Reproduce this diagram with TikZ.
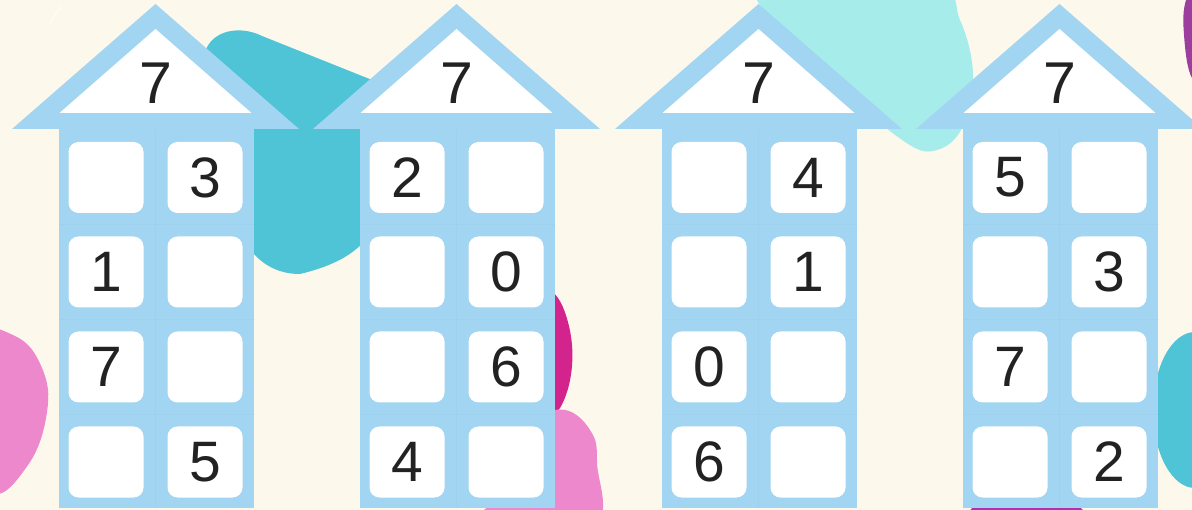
\documentclass[tikz,border=0pt]{standalone}
\usepackage{fontspec}
\setmainfont{Liberation Sans}
\definecolor{bgcream}{HTML}{FDF8EC}
\definecolor{houseblue}{HTML}{A2D5F2}
\definecolor{blobteal}{HTML}{4EC4D6}
\definecolor{blobcyan}{HTML}{A6ECEB}
\definecolor{blobmagenta}{HTML}{D3238C}
\definecolor{blobpink}{HTML}{EC88CB}
\definecolor{blobpurple}{HTML}{9C3E9E}
\definecolor{digit}{HTML}{222222}
\tikzset{
  cellbox/.style={fill=white, rounded corners=10pt, minimum width=75pt, minimum height=71pt,
    inner sep=0pt, text=digit, font=\fontsize{57}{60}\selectfont},
  rooflabel/.style={inner sep=0pt, text=digit, font=\fontsize{59}{62}\selectfont},
  seam/.style={draw=houseblue!88!black, opacity=0.15, line width=0.6pt}
}
\begin{document}
\begin{tikzpicture}[x=1pt,y=-1pt]
\useasboundingbox (0,0) rectangle (1192,510);
\clip (0,0) rectangle (1192,510);
\fill[bgcream] (0,0) rectangle (1192,510);
% background blobs
\fill[blobteal] (205,52) .. controls (212,30) and (240,25) .. (262,36)
  -- (372,80) -- (380,200) .. controls (378,240) and (350,262) .. (300,274)
  .. controls (265,274) and (240,250) .. (230,200) -- cycle;
\fill[blobcyan] plot[smooth cycle, tension=0.6] coordinates {(765,-25) (930,-20) (960,20) (973,75) (962,128) (937,150) (905,142) (830,80) (770,20)};
\fill[blobmagenta] plot[smooth cycle, tension=0.7] coordinates {(540,300) (558,298) (572,345) (566,395) (548,412) (530,360)};
\fill[blobpink] plot[smooth cycle, tension=0.7] coordinates {(540,422) (565,410) (590,430) (597,462) (590,530) (470,530) (490,505) (530,470)};
\fill[blobpink] plot[smooth cycle, tension=0.7] coordinates {(-30,335) (15,336) (42,368) (47,412) (28,465) (-10,492) (-40,420)};
\fill[blobpurple] plot[smooth cycle, tension=0.7] coordinates {(1200,-20) (1186,0) (1184,35) (1192,78) (1210,80) (1215,20)};
\fill[blobteal] (1195,410) ellipse[x radius=42pt, y radius=78pt];
\fill[blobpurple!80!magenta] plot[smooth cycle, tension=0.5] coordinates {(975,506) (1025,504) (1078,506) (1080,530) (973,530)};
\draw[white, opacity=0.7, line width=1.5pt, line cap=round] (50,23) .. controls (55,15) .. (62,6);
% houses
\foreach \c/\n/\aa/\ab/\ba/\bb/\ca/\cb/\da/\db in {
  155.5/1/{}/3/1/{}/7/{}/{}/5,
  456.5/2/2/{}/{}/0/{}/6/4/{},
  758.5/3/{}/4/{}/1/0/{}/6/{},
  1059.5/4/5/{}/{}/3/7/{}/{}/2}{
  \fill[houseblue] (\c-97,127) rectangle (\c+98,508);
  \fill[houseblue] (\c,4) -- (\c+143.5,129) -- (\c-143.5,129) -- cycle;
  \fill[white] (\c,29) -- (\c+96,113) -- (\c-96,113) -- cycle;
  \draw[seam] (\c,129) -- (\c,508);
  \draw[seam] (\c-97,224.5) -- (\c+98,224.5);
  \draw[seam] (\c-97,319.5) -- (\c+98,319.5);
  \draw[seam] (\c-97,414.5) -- (\c+98,414.5);
  \node[rooflabel] (roof\n) at (\c,83) {7};
  \node[cellbox] (h\n-1a) at (\c-49.5,177.5) {\aa};
  \node[cellbox] (h\n-1b) at (\c+49.5,177.5) {\ab};
  \node[cellbox] (h\n-2a) at (\c-49.5,272) {\ba};
  \node[cellbox] (h\n-2b) at (\c+49.5,272) {\bb};
  \node[cellbox] (h\n-3a) at (\c-49.5,367) {\ca};
  \node[cellbox] (h\n-3b) at (\c+49.5,367) {\cb};
  \node[cellbox] (h\n-4a) at (\c-49.5,462) {\da};
  \node[cellbox] (h\n-4b) at (\c+49.5,462) {\db};
}
\end{tikzpicture}
\end{document}
